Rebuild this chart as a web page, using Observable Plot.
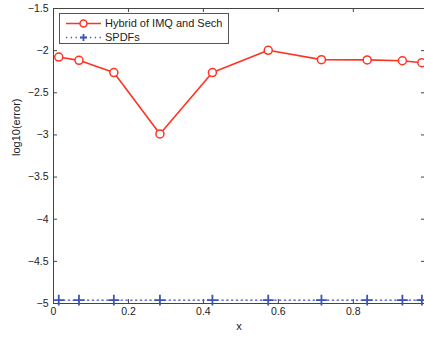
<!DOCTYPE html>
<html>
<head>
<meta charset="utf-8">
<script src="https://cdn.jsdelivr.net/npm/d3@7"></script>
<script src="https://cdn.jsdelivr.net/npm/@observablehq/plot@0.6"></script>
<style>
  html, body { margin: 0; padding: 0; background: #fff; overflow: hidden; }
  #wrap { position: relative; width: 424px; height: 338px; font-family: "Liberation Sans", Arial, sans-serif; }
  #legend { position: absolute; left: 59px; top: 13px; width: 170px; height: 31px; border: 1px solid #555; background: #fff; box-sizing: border-box; }
</style>
</head>
<body>
<div id="wrap"><div id="legend"></div></div>
<script>
const xs = [0.014, 0.068, 0.161, 0.284, 0.424, 0.573, 0.715, 0.837, 0.931, 0.983];
const hybrid = [-2.076, -2.115, -2.26, -2.988, -2.26, -1.996, -2.107, -2.11, -2.12, -2.143];
const spdfs = [-4.96, -4.96, -4.96, -4.96, -4.96, -4.96, -4.96, -4.96, -4.96, -4.96];
const xTicks = [0, 0.2, 0.4, 0.6, 0.8];
const yTicks = [-1.5, -2, -2.5, -3, -3.5, -4, -4.5, -5];
const seriesNames = ["Hybrid of IMQ and Sech", "SPDFs"];

const red = "#ff3322";
const blue = "#3a55b4";
const W = 424, H = 338, mT = 8, mB = 35, mL = 53, mR = 0;
const plotH = H - mT - mB, plotW = W - mL - mR;

const dataH = xs.map((x, i) => ({x, y: hybrid[i]}));
const dataS = xs.map((x, i) => ({x, y: spdfs[i]}));
const fmt = d => String(d).replace("-", "\u2212");

const chart = Plot.plot({
  width: W, height: H,
  marginTop: mT, marginBottom: mB, marginLeft: mL, marginRight: mR,
  style: {fontFamily: "Liberation Sans, Arial, sans-serif", fontSize: "10.5px", color: "#222", background: "white"},
  x: {domain: [0, 0.99]},
  y: {domain: [-5, -1.5]},
  marks: [
    Plot.frame({anchor: "top", stroke: "#444"}),
    Plot.frame({anchor: "left", stroke: "#444"}),
    Plot.frame({anchor: "bottom", stroke: "#444"}),
    Plot.tickX(xTicks, {x: d => d, insetTop: plotH - 4, stroke: "#444"}),
    Plot.tickX(xTicks, {x: d => d, insetBottom: plotH - 4, stroke: "#444"}),
    Plot.tickY(yTicks, {y: d => d, insetRight: plotW - 4, stroke: "#444"}),
    Plot.tickY(yTicks, {y: d => d, insetLeft: plotW - 3, stroke: "#444"}),
    Plot.axisX(xTicks, {tickSize: 0, tickPadding: 4, label: null, tickFormat: d => String(d), fontSize: 10.5}),
    Plot.axisY(yTicks, {tickSize: 0, tickPadding: 5, label: null, tickFormat: fmt, fontSize: 10.5}),
    Plot.text(["x"], {frameAnchor: "bottom", dy: 26, fontSize: 11, text: d => d}),
    Plot.text(["log10(error)"], {frameAnchor: "left", dx: -37, rotate: -90, fontSize: 11, text: d => d}),
    Plot.line(dataS, {x: "x", y: "y", stroke: blue, strokeWidth: 1.3, strokeDasharray: "1.3,3.5"}),
    Plot.dot(dataS, {x: "x", y: "y", symbol: "plus", r: 3.6, stroke: blue, strokeWidth: 1.8}),
    Plot.line(dataH, {x: "x", y: "y", stroke: red, strokeWidth: 1.6}),
    Plot.dot(dataH, {x: "x", y: "y", r: 4, stroke: red, strokeWidth: 1.5, fill: "white"})
  ]
});
document.getElementById("wrap").prepend(chart);

// legend
const lg = d3.select("#legend").append("svg").attr("width", 168).attr("height", 29)
  .style("font-family", "Liberation Sans, Arial, sans-serif");
const rows = [
  {name: seriesNames[0], color: red, dash: null, sym: "circle"},
  {name: seriesNames[1], color: blue, dash: "1.3,3.5", sym: "plus"}
];
rows.forEach((r, i) => {
  const y = 9.5 + i * 14;
  lg.append("line").attr("x1", 6).attr("x2", 41).attr("y1", y).attr("y2", y)
    .attr("stroke", r.color).attr("stroke-width", r.dash ? 1.3 : 1.6)
    .attr("stroke-dasharray", r.dash);
  if (r.sym === "circle") {
    lg.append("circle").attr("cx", 23.5).attr("cy", y).attr("r", 3.5)
      .attr("fill", "white").attr("stroke", r.color).attr("stroke-width", 1.5);
  } else {
    lg.append("path").attr("d", `M20,${y}H27M23.5,${y-3.5}V${y+3.5}`)
      .attr("stroke", r.color).attr("stroke-width", 1.8);
  }
  lg.append("text").attr("x", 45).attr("y", y).attr("dy", "0.35em")
    .attr("font-size", 11).attr("fill", "#222").text(r.name);
});
</script>
</body>
</html>
